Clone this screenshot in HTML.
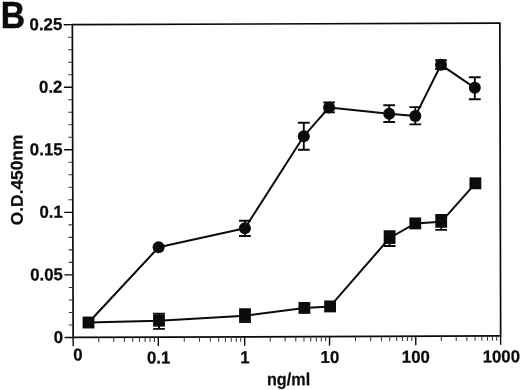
<!DOCTYPE html><html><head><meta charset="utf-8"><title>B</title><style>html,body{margin:0;padding:0;background:#fff;overflow:hidden}svg{display:block;filter:blur(0.45px)}text{font-family:"Liberation Sans",sans-serif;font-weight:bold;fill:#0b0b0b;stroke:#0b0b0b;stroke-width:0.25px}</style></head><body>
<svg width="520" height="390" viewBox="0 0 520 390">
<rect width="520" height="390" fill="#fff"/>
<g transform="matrix(1 -0.00351 0.00256 1 -0.913 0.307)">
<rect x="73.2" y="24.60" width="427.50" height="312.80" fill="none" stroke="#0b0b0b" stroke-width="1.7"/>
<path d="M64.60 337.40H73.2M64.60 274.84H73.2M64.60 212.28H73.2M64.60 149.72H73.2M64.60 87.16H73.2M64.60 24.60H73.2M73.20 337.4V346.30M158.35 337.4V346.30M244.70 337.4V346.30M329.60 337.4V346.30M415.80 337.4V346.30M500.65 337.4V346.30" stroke="#0b0b0b" stroke-width="1.4" fill="none"/>
<path d="M68.90 324.89H73.2M68.90 312.38H73.2M68.90 299.86H73.2M68.90 287.35H73.2M68.90 262.33H73.2M68.90 249.82H73.2M68.90 237.30H73.2M68.90 224.79H73.2M68.90 199.77H73.2M68.90 187.26H73.2M68.90 174.74H73.2M68.90 162.23H73.2M68.90 137.21H73.2M68.90 124.70H73.2M68.90 112.18H73.2M68.90 99.67H73.2M68.90 74.65H73.2M68.90 62.14H73.2M68.90 49.62H73.2M68.90 37.11H73.2M98.83 337.4V342.20M113.83 337.4V342.20M124.47 337.4V342.20M132.72 337.4V342.20M139.46 337.4V342.20M145.16 337.4V342.20M150.10 337.4V342.20M154.45 337.4V342.20M184.34 337.4V342.20M199.55 337.4V342.20M210.34 337.4V342.20M218.71 337.4V342.20M225.54 337.4V342.20M231.32 337.4V342.20M236.33 337.4V342.20M240.75 337.4V342.20M270.26 337.4V342.20M285.21 337.4V342.20M295.81 337.4V342.20M304.04 337.4V342.20M310.77 337.4V342.20M316.45 337.4V342.20M321.37 337.4V342.20M325.72 337.4V342.20M355.55 337.4V342.20M370.73 337.4V342.20M381.50 337.4V342.20M389.85 337.4V342.20M396.68 337.4V342.20M402.45 337.4V342.20M407.45 337.4V342.20M411.86 337.4V342.20M441.34 337.4V342.20M456.28 337.4V342.20M466.88 337.4V342.20M475.11 337.4V342.20M481.83 337.4V342.20M487.51 337.4V342.20M492.43 337.4V342.20M496.77 337.4V342.20" stroke="#3a3a3a" stroke-width="1.05" fill="none"/>
<text transform="translate(63.1 30.00) scale(0.972 1)" font-size="17.3" text-anchor="end">0.25</text>
<text transform="translate(63.1 92.56) scale(0.972 1)" font-size="17.3" text-anchor="end">0.2</text>
<text transform="translate(63.1 155.12) scale(0.972 1)" font-size="17.3" text-anchor="end">0.15</text>
<text transform="translate(63.1 217.68) scale(0.972 1)" font-size="17.3" text-anchor="end">0.1</text>
<text transform="translate(63.1 280.24) scale(0.972 1)" font-size="17.3" text-anchor="end">0.05</text>
<text transform="translate(63.1 342.80) scale(0.972 1)" font-size="17.3" text-anchor="end">0</text>
<text transform="translate(158.65 363.8) scale(0.972 1)" font-size="17.3" text-anchor="middle">0.1</text>
<text transform="translate(245.00 363.8) scale(0.972 1)" font-size="17.3" text-anchor="middle">1</text>
<text transform="translate(329.90 363.8) scale(0.972 1)" font-size="17.3" text-anchor="middle">10</text>
<text transform="translate(415.80 363.8) scale(0.972 1)" font-size="17.3" text-anchor="middle">100</text>
<text transform="translate(501.35 363.8) scale(0.972 1)" font-size="17.3" text-anchor="middle">1000</text>
<text transform="translate(77.8 360.4) scale(0.972 1)" font-size="17.3" text-anchor="middle">0</text>
<text transform="translate(288.5 386) scale(0.92 1)" font-size="17.6" text-anchor="middle">ng/ml</text>
<text transform="translate(23.1 179.7) rotate(-90) scale(1.025 1)" font-size="16.9" text-anchor="middle">O.D.450nm</text>
</g>
<text transform="translate(0.7 27.5) scale(0.905 1)" font-size="37.2" style="stroke-width:0.55px">B</text>
<polyline points="88.6,322.5 158.6,247.3 244.9,228.2 303.8,136.2 329.1,107.4 389.2,113.7 415.3,116.1 441,64.8 474.8,87.8" fill="none" stroke="#0b0b0b" stroke-width="2" stroke-linejoin="round"/>
<polyline points="88.5,322.5 159,320.7 245,315.7 304.4,307.9 330.1,306.4 389.6,238 415.3,223.4 441.2,221.8 475.4,183.3" fill="none" stroke="#0b0b0b" stroke-width="2" stroke-linejoin="round"/>
<path d="M244.9 220.7V236M239.0 220.7h11.8M239.0 236h11.8M303.8 122.7V149.7M297.9 122.7h11.8M297.9 149.7h11.8M329.1 102.4V112.4M323.2 102.4h11.8M323.2 112.4h11.8M389.2 105.2V122M383.3 105.2h11.8M383.3 122h11.8M415.3 107.1V124.4M409.4 107.1h11.8M409.4 124.4h11.8M441.0 60.2V69M435.1 60.2h11.8M435.1 69h11.8M474.8 77.3V99.2M468.9 77.3h11.8M468.9 99.2h11.8M159.0 313.75V328.9M153.1 313.75h11.8M153.1 328.9h11.8M245.0 309.3V322.1M239.1 309.3h11.8M239.1 322.1h11.8M389.6 231.3V246M383.7 231.3h11.8M383.7 246h11.8M441.2 214.95V229.9M435.3 214.95h11.8M435.3 229.9h11.8" stroke="#0b0b0b" stroke-width="1.9" fill="none"/>
<circle cx="158.6" cy="247.3" r="6" fill="#0b0b0b"/>
<circle cx="244.9" cy="228.2" r="6" fill="#0b0b0b"/>
<circle cx="303.8" cy="136.2" r="6" fill="#0b0b0b"/>
<circle cx="329.1" cy="107.4" r="6" fill="#0b0b0b"/>
<circle cx="389.2" cy="113.7" r="6" fill="#0b0b0b"/>
<circle cx="415.3" cy="116.1" r="6" fill="#0b0b0b"/>
<circle cx="441" cy="64.8" r="6" fill="#0b0b0b"/>
<circle cx="474.8" cy="87.8" r="6" fill="#0b0b0b"/>
<rect x="82.60" y="316.55" width="11.8" height="11.9" fill="#0b0b0b"/>
<rect x="153.10" y="314.75" width="11.8" height="11.9" fill="#0b0b0b"/>
<rect x="239.10" y="309.75" width="11.8" height="11.9" fill="#0b0b0b"/>
<rect x="298.50" y="301.95" width="11.8" height="11.9" fill="#0b0b0b"/>
<rect x="324.20" y="300.45" width="11.8" height="11.9" fill="#0b0b0b"/>
<rect x="383.70" y="232.05" width="11.8" height="11.9" fill="#0b0b0b"/>
<rect x="409.40" y="217.45" width="11.8" height="11.9" fill="#0b0b0b"/>
<rect x="435.30" y="215.85" width="11.8" height="11.9" fill="#0b0b0b"/>
<rect x="469.50" y="177.35" width="11.8" height="11.9" fill="#0b0b0b"/>
</svg></body></html>
